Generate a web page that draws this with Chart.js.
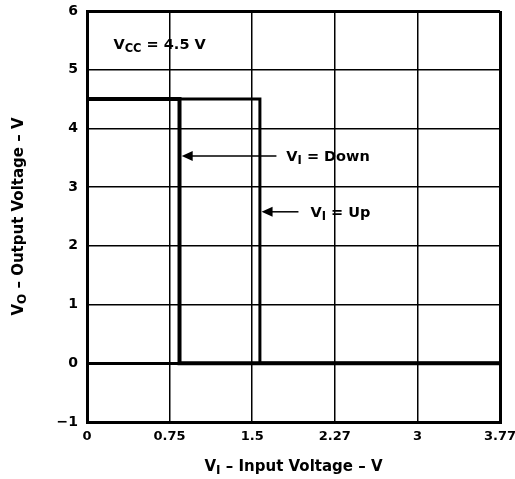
<!DOCTYPE html>
<html>
<head>
<meta charset="utf-8">
<script src="https://cdn.jsdelivr.net/npm/chart.js@4/dist/chart.umd.min.js"></script>
<style>
  html, body { margin: 0; padding: 0; background: #fff; }
  #wrap { width: 515px; height: 479px; }
</style>
</head>
<body>
<div id="wrap"><canvas id="grafica" width="515" height="479"></canvas></div>
<script>
// ==============================
// Data
// ==============================
const xTickValues = [0, 0.75, 1.5, 2.25, 3, 3.75];
const xTickLabels = ["0", "0.75", "1.5", "2.27", "3", "3.77"];
const yTickValues = [-1, 0, 1, 2, 3, 4, 5, 6];
const yTickLabels = ["\u22121", "0", "1", "2", "3", "4", "5", "6"];

// input sweeping down: low until 0.84 V, then high
const downX = [3.75, 0.84, 0.84, 0];
const downY = [0, 0, 4.5, 4.5];
// input sweeping up: high until 1.57 V, then low
const upX = [0, 1.57, 1.57, 3.75];
const upY = [4.5, 4.5, 0, 0];

const FONT = "'DejaVu Sans', sans-serif";

// ==============================
// Annotations plugin (titles, labels, arrows)
// ==============================
function subText(ctx, parts, x, y, size, align) {
  // parts: [[text, isSub], ...]
  let w = 0;
  parts.forEach(p => {
    ctx.font = `bold ${p[1] ? size - 3 : size}px ${FONT}`;
    w += ctx.measureText(p[0]).width;
  });
  let cx = align === "center" ? x - w / 2 : x;
  parts.forEach(p => {
    ctx.font = `bold ${p[1] ? size - 3 : size}px ${FONT}`;
    ctx.textAlign = "left";
    ctx.textBaseline = "alphabetic";
    ctx.fillText(p[0], cx, y + (p[1] ? 3 : 0));
    cx += ctx.measureText(p[0]).width;
  });
}

function arrow(ctx, x1, x2, y) {
  // arrow from x1 to x2 (head at x2)
  ctx.beginPath();
  ctx.moveTo(x1, y);
  ctx.lineTo(x2 + 8, y);
  ctx.lineWidth = 1.5;
  ctx.stroke();
  ctx.beginPath();
  ctx.moveTo(x2, y);
  ctx.lineTo(x2 + 11, y - 5);
  ctx.lineTo(x2 + 11, y + 5);
  ctx.closePath();
  ctx.fill();
}

const notas = {
  id: "notas",
  afterDraw(chart) {
    const ctx = chart.ctx;
    const xs = chart.scales.x, ys = chart.scales.y;
    const a = chart.chartArea;
    ctx.save();
    ctx.fillStyle = "#000";
    ctx.strokeStyle = "#000";

    subText(ctx, [["V", false], ["CC", true], [" = 4.5 V", false]],
      xs.getPixelForValue(0.24), ys.getPixelForValue(5.35), 14.5, "left");

    arrow(ctx, xs.getPixelForValue(1.72), xs.getPixelForValue(0.86), ys.getPixelForValue(3.53));
    subText(ctx, [["V", false], ["I", true], [" = Down", false]],
      xs.getPixelForValue(1.81), ys.getPixelForValue(3.53) + 5, 14.5, "left");

    arrow(ctx, xs.getPixelForValue(1.92), xs.getPixelForValue(1.585), ys.getPixelForValue(2.58));
    subText(ctx, [["V", false], ["I", true], [" = Up", false]],
      xs.getPixelForValue(2.03), ys.getPixelForValue(2.58) + 5, 14.5, "left");

    // x title
    subText(ctx, [["V", false], ["I", true], [" \u2013 Input Voltage \u2013 V", false]],
      (a.left + a.right) / 2, 471, 15, "center");

    // y title
    ctx.translate(23, (a.top + a.bottom) / 2);
    ctx.rotate(-Math.PI / 2);
    subText(ctx, [["V", false], ["O", true], [" \u2013 Output Voltage \u2013 V", false]],
      0, 0, 15, "center");
    ctx.restore();
  }
};

// ==============================
// Chart
// ==============================
const toPts = (xs, ys) => xs.map((x, i) => ({ x: x, y: ys[i] }));
const ctx = document.getElementById("grafica").getContext("2d");

new Chart(ctx, {
  type: "scatter",
  data: {
    datasets: [
      { label: "Down", data: toPts(downX, downY), showLine: true, borderColor: "#000",
        borderWidth: 4, pointRadius: 0, fill: false, tension: 0 },
      { label: "Up", data: toPts(upX, upY), showLine: true, borderColor: "#000",
        borderWidth: 3, pointRadius: 0, fill: false, tension: 0 }
    ]
  },
  options: {
    responsive: false,
    animation: false,
    layout: { padding: { left: 0, right: 15, top: 11, bottom: 0 } },
    plugins: { legend: { display: false }, tooltip: { enabled: false } },
    scales: {
      x: {
        type: "linear", min: 0, max: 3.75,
        afterBuildTicks: s => { s.ticks = xTickValues.map(v => ({ value: v })); },
        afterFit: s => { s.height = 57; s.paddingLeft = 0; s.paddingRight = 0; },
        ticks: {
          color: "#000", padding: 7, maxRotation: 0,
          font: { family: FONT, size: 13, weight: "bold" },
          callback: v => xTickLabels[xTickValues.indexOf(v)]
        },
        grid: {
          color: "#000", drawTicks: false,
          lineWidth: c => (c.tick && (c.tick.value === 0 || c.tick.value === 3.75)) ? 3 : 1.5
        },
        border: { color: "#000", width: 3 }
      },
      y: {
        type: "linear", min: -1, max: 6,
        afterBuildTicks: s => { s.ticks = yTickValues.map(v => ({ value: v })); },
        afterFit: s => { s.width = 87; s.paddingTop = 0; s.paddingBottom = 0; },
        ticks: {
          color: "#000", padding: 9,
          font: { family: FONT, size: 14, weight: "bold" },
          callback: v => yTickLabels[yTickValues.indexOf(v)]
        },
        grid: {
          color: "#000", drawTicks: false,
          lineWidth: c => (c.tick && (c.tick.value === 0 || c.tick.value === -1 || c.tick.value === 6)) ? 3 : 1.5
        },
        border: { color: "#000", width: 3 }
      }
    }
  },
  plugins: [notas]
});
</script>
</body>
</html>
